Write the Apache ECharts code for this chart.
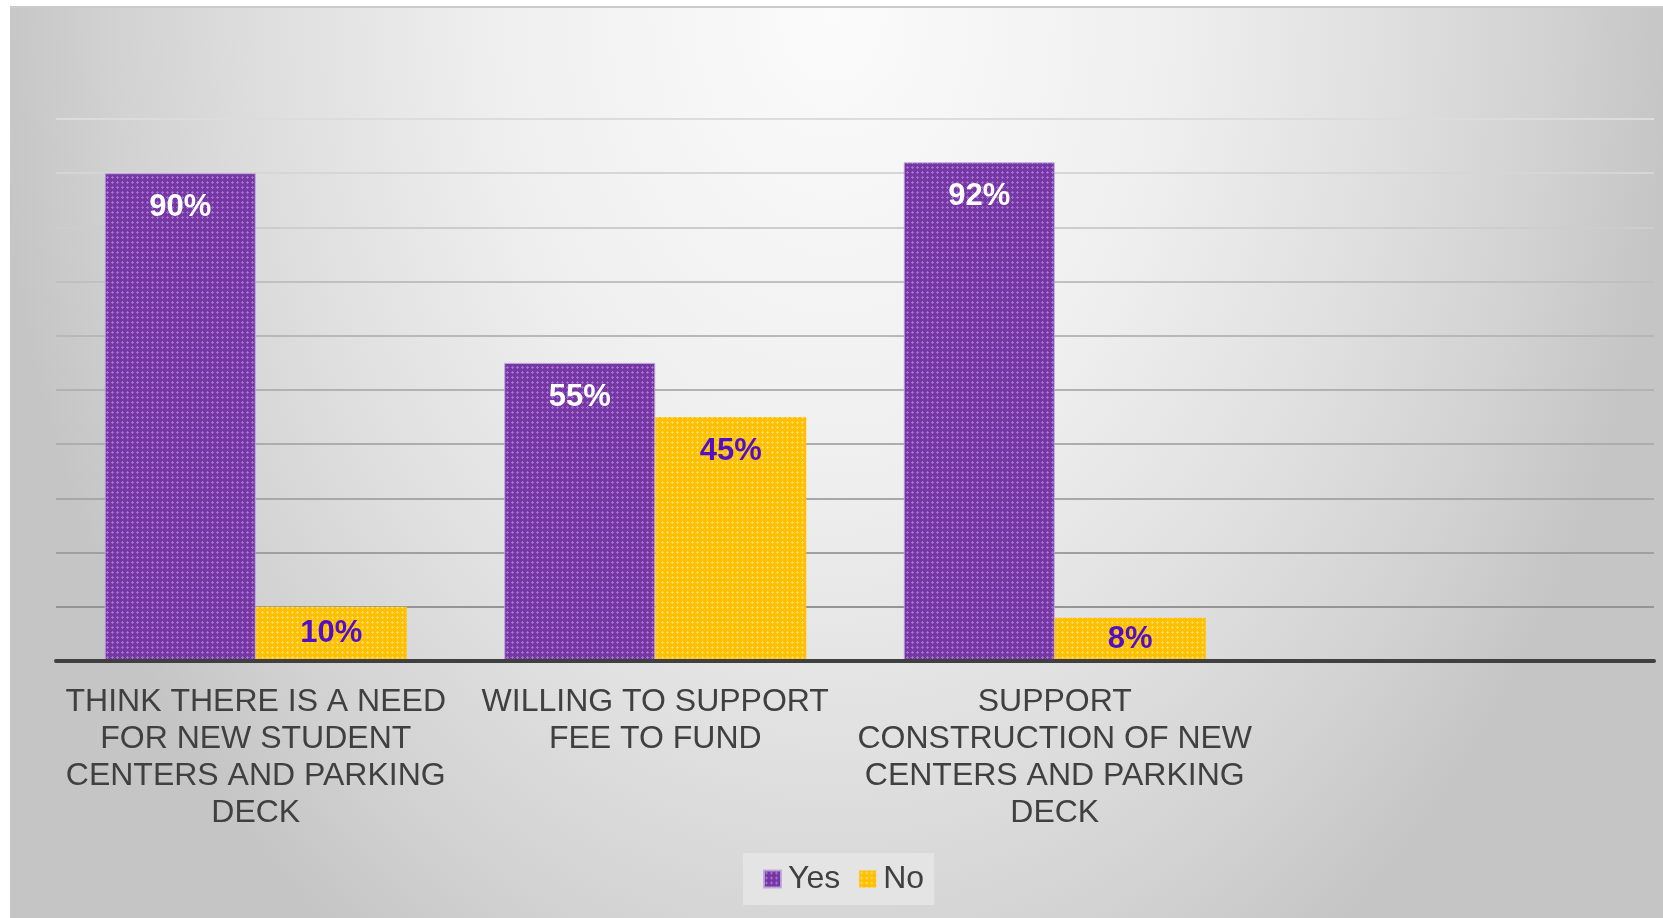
<!DOCTYPE html>
<html>
<head>
<meta charset="utf-8">
<script src="https://cdn.jsdelivr.net/npm/echarts@6/dist/echarts.min.js"></script>
<style>
html, body { margin: 0; padding: 0; background: #ffffff; }
#panel {
	position: absolute; left: 10px; top: 6px; width: 1653px; height: 912px;
	border-top: 2px solid #cbcbcb;
	background: radial-gradient(ellipse 840px 1150px at 822px 0px, #fbfbfb 0%, #efefef 40%, #e0e0e0 65%, #d2d2d2 85%, #c5c5c5 100%);
}
#chartDiv { position: absolute; left: 0; top: 0; width: 1663px; height: 918px; }
</style>
</head>
<body>
<div id="panel"></div>
<div id="chartDiv"></div>
<script>
var categories = [
	"THINK THERE IS A NEED\nFOR NEW STUDENT\nCENTERS AND PARKING\nDECK",
	"WILLING TO SUPPORT\nFEE TO FUND",
	"SUPPORT\nCONSTRUCTION OF NEW\nCENTERS AND PARKING\nDECK",
	""
];
var yesValues = [90, 55, 92, null];
var noValues = [10, 45, 8, null];
var seriesNames = ["Yes", "No"];

// Excel-like dotted texture for the bars
function makePattern(base, light) {
	var c = document.createElement("canvas");
	c.width = 5;
	c.height = 5;
	var ctx = c.getContext("2d");
	ctx.fillStyle = base;
	ctx.fillRect(0, 0, 5, 5);
	ctx.fillStyle = light;
	ctx.fillRect(2, 1, 1, 3);
	ctx.fillRect(1, 2, 3, 1);
	return { image: c, repeat: "repeat" };
}

var purpleFill = makePattern("#7636a6", "#a073c8");
var yellowFill = makePattern("#ffc000", "#ffd866");

function buildData(values) {
	return values.map(function(v) {
		if (v !== null && v < 12) {
			return { value: v, label: { position: "inside" } };
		}
		return v;
	});
}

var chart = echarts.init(document.getElementById("chartDiv"));

var gridColors = ["#8a8a8a", "#959595", "#a0a0a0", "#a8a8a8", "#adadad", "#b2b2b2", "#b8b8b8", "#c0c0c0", "#cdcdcd", "#d6d6d6", "#dcdcdc"];

chart.setOption({
	animation: false,
	textStyle: { fontFamily: "'Liberation Sans', Arial, sans-serif" },
	grid: { left: 56, right: 9, top: 119, bottom: 257, containLabel: false },
	legend: {
		data: seriesNames,
		left: 743,
		top: 853,
		padding: [10, 10, 10, 20],
		backgroundColor: "#e4e4e4",
		itemWidth: 17,
		itemHeight: 17,
		itemGap: 19,
		icon: "rect",
		textStyle: { fontSize: 32, color: "#404040", lineHeight: 32, padding: [0, 0, 0, 2] }
	},
	xAxis: {
		type: "category",
		data: categories,
		z: 5,
		axisLine: { lineStyle: { color: "#404040", width: 4 } },
		axisTick: { show: false },
		axisLabel: {
			interval: 0,
			margin: 23,
			fontSize: 32,
			lineHeight: 37,
			color: "#404040",
			align: "center"
		}
	},
	yAxis: {
		type: "value",
		min: 0,
		max: 100,
		interval: 10,
		axisLine: { show: false },
		axisTick: { show: false },
		axisLabel: { show: false },
		splitLine: { lineStyle: { color: gridColors, width: 2 } }
	},
	series: [
		{
			name: seriesNames[0],
			type: "bar",
			data: buildData(yesValues),
			barWidth: 151,
			barGap: "0%",
			itemStyle: { color: purpleFill, borderColor: "rgba(190,165,220,0.9)", borderWidth: 1 },
			label: {
				show: true,
				position: "insideTop",
				distance: 19,
				formatter: "{c}%",
				color: "#ffffff",
				fontSize: 31,
				fontWeight: "bold"
			}
		},
		{
			name: seriesNames[1],
			type: "bar",
			data: buildData(noValues),
			barWidth: 151,
			barGap: "0%",
			itemStyle: { color: yellowFill },
			label: {
				show: true,
				position: "insideTop",
				distance: 19,
				formatter: "{c}%",
				color: "#5210c6",
				fontSize: 31,
				fontWeight: "bold"
			}
		}
	]
});
</script>
</body>
</html>
